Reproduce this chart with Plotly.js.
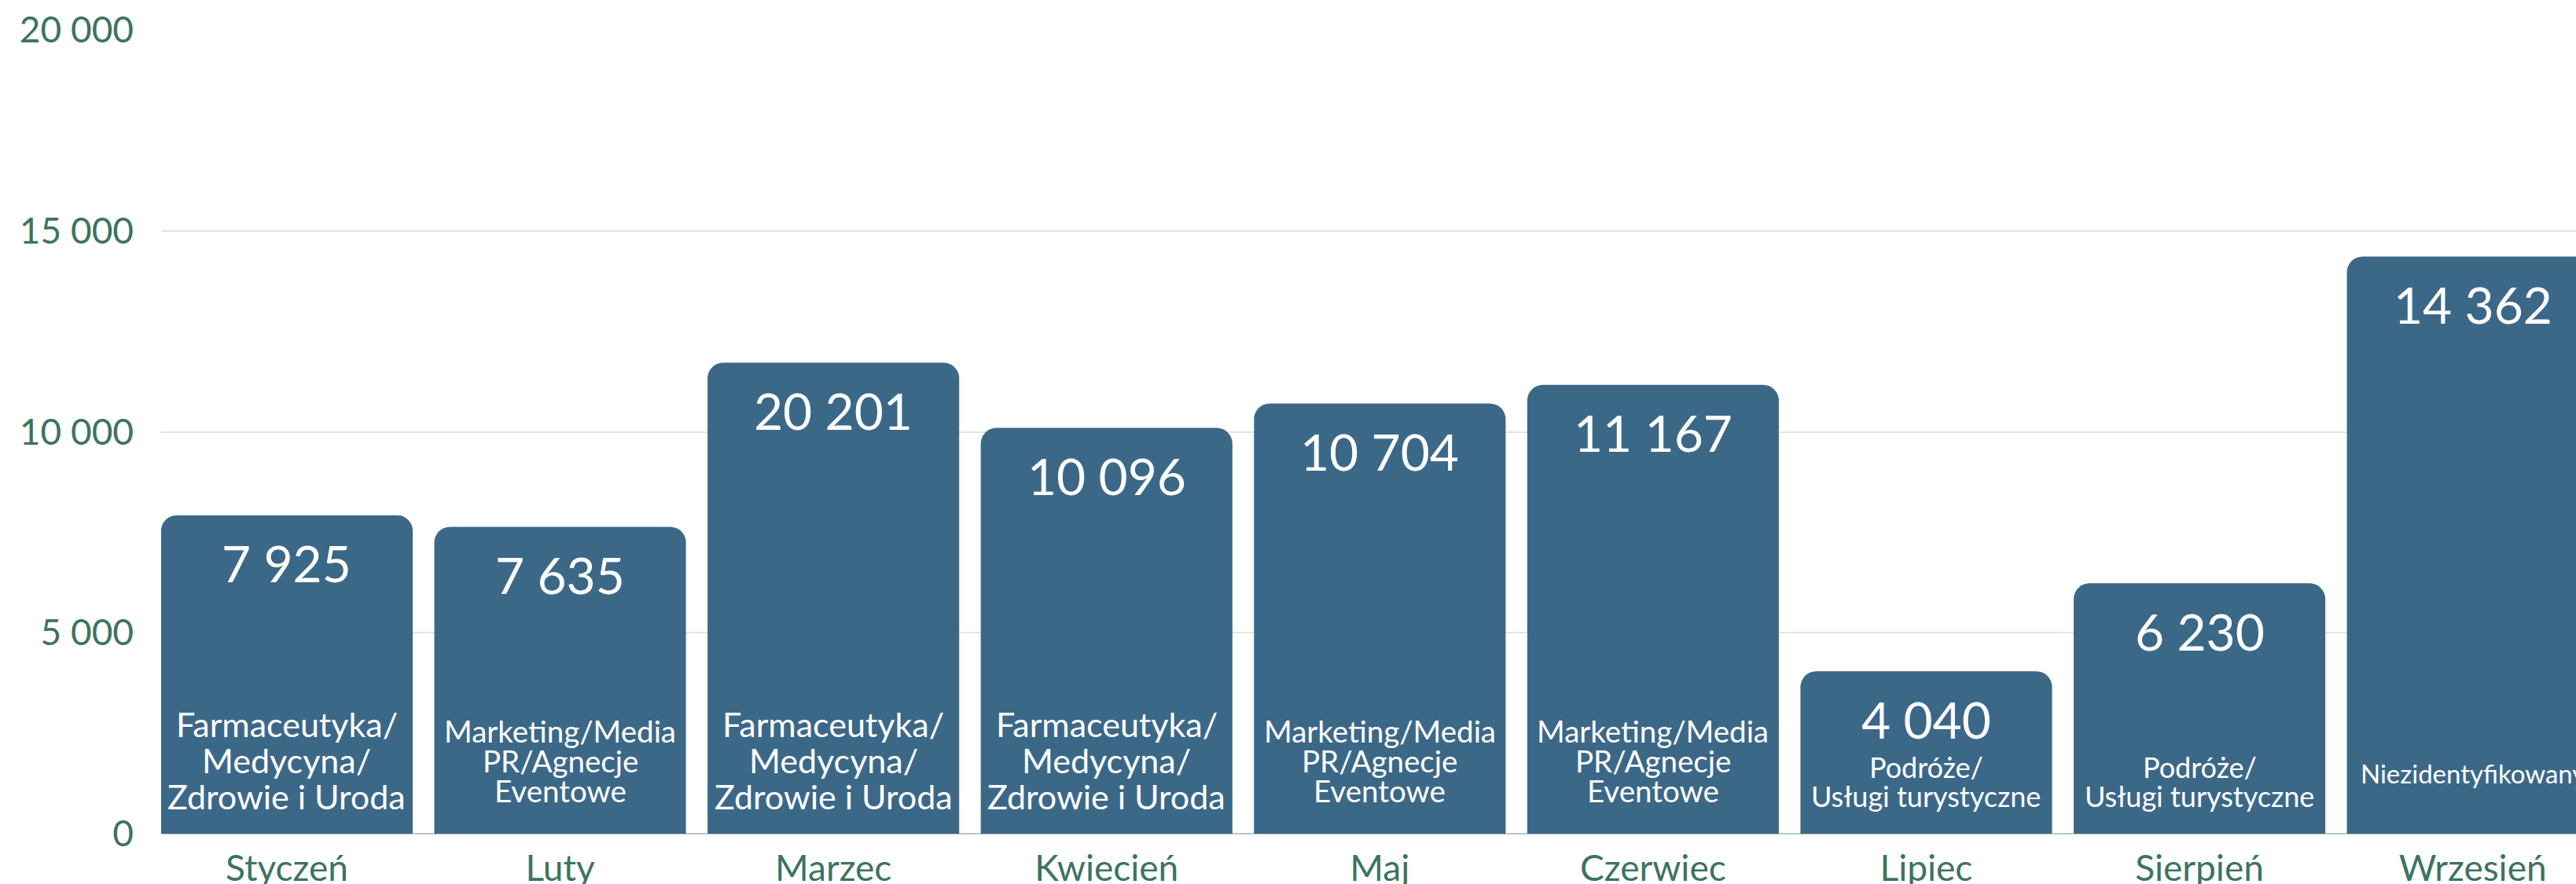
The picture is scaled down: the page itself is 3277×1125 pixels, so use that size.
<!DOCTYPE html>
<html>
<head>
<meta charset="utf-8">
<script src="https://cdn.plot.ly/plotly-3.0.1.min.js"></script>
<style>
  html, body { margin: 0; padding: 0; background: #ffffff; }
  #chart { width: 3277px; height: 1125px; }
</style>
</head>
<body>
<div id="chart"></div>
<script>
// ---- data ----
const months = ["Styczeń", "Luty", "Marzec", "Kwiecień", "Maj", "Czerwiec", "Lipiec", "Sierpień", "Wrzesień"];
// bar heights as drawn in the picture
const barValues = [7925, 7635, 11720, 10096, 10704, 11167, 4040, 6230, 14362];
// value labels printed on the bars
const labelValues = [7925, 7635, 20201, 10096, 10704, 11167, 4040, 6230, 14362];
// sector printed inside each bar
const sectors = [
  "Farmaceutyka/\nMedycyna/\nZdrowie i Uroda",
  "Marketing/Media\nPR/Agnecje\nEventowe",
  "Farmaceutyka/\nMedycyna/\nZdrowie i Uroda",
  "Farmaceutyka/\nMedycyna/\nZdrowie i Uroda",
  "Marketing/Media\nPR/Agnecje\nEventowe",
  "Marketing/Media\nPR/Agnecje\nEventowe",
  "Podróże/\nUsługi turystyczne",
  "Podróże/\nUsługi turystyczne",
  "Niezidentyfikowany"
];
const yTicks = [0, 5000, 10000, 15000, 20000];

// ---- style ----
const FONT = "Lato, 'Open Sans', sans-serif";
const BAR = "#3c6888";
const TICK = "#3d7361";
const sectorStyle = {
  "Farmaceutyka/\nMedycyna/\nZdrowie i Uroda": { size: 43, gap: 46, bottom: 31 },
  "Marketing/Media\nPR/Agnecje\nEventowe":      { size: 38.5, gap: 38, bottom: 40 },
  "Podróże/\nUsługi turystyczne":              { size: 36, gap: 37, bottom: 34 },
  "Niezidentyfikowany":                        { size: 33, gap: 0,  bottom: 64 }
};

function fmt(v) {
  return String(v).replace(/\B(?=(\d{3})+(?!\d))/g, " ");
}

const trace = {
  type: "bar",
  x: months,
  y: barValues,
  marker: { color: BAR, cornerradius: 20, line: { width: 0 } },
  hoverinfo: "skip",
  showlegend: false
};

const annotations = [];
months.forEach((m, i) => {
  annotations.push({
    x: m, y: barValues[i], xref: "x", yref: "y",
    text: fmt(labelValues[i]),
    showarrow: false, xanchor: "center", yanchor: "middle",
    yshift: -61,
    font: { family: FONT, size: 64, color: "#ffffff" }
  });
  const st = sectorStyle[sectors[i]];
  const lines = sectors[i].split("\n");
  lines.forEach((ln, j) => {
    const base = st.bottom + (lines.length - 1 - j) * st.gap;
    annotations.push({
      x: m, y: 0, xref: "x", yref: "y",
      text: ln,
      showarrow: false, xanchor: "center", yanchor: "middle",
      yshift: base + 0.387 * st.size,
      font: { family: FONT, size: st.size, color: "#ffffff" }
    });
  });
});

const layout = {
  width: 3277, height: 1125,
  margin: { l: 205, r: 0, t: 38, b: 64, pad: 0 },
  paper_bgcolor: "#ffffff",
  plot_bgcolor: "#ffffff",
  separators: ", ",
  bargap: 0.079,
  font: { family: FONT, color: TICK },
  xaxis: {
    type: "category",
    range: [-0.4603, 8.378],
    showgrid: false, zeroline: false, showline: false, ticks: "",
    tickfont: { family: FONT, size: 46, color: TICK },
    ticklabelstandoff: 13,
    fixedrange: true
  },
  yaxis: {
    range: [0, 20000],
    tickvals: yTicks,
    ticktext: yTicks.map(fmt),
    showgrid: true, gridcolor: "#dfe6e4", gridwidth: 2,
    zeroline: true, zerolinecolor: "#b9cbc4", zerolinewidth: 2,
    showline: false, ticks: "",
    tickfont: { family: FONT, size: 46, color: TICK },
    ticklabelstandoff: 34,
    fixedrange: true
  },
  annotations: annotations
};

Plotly.newPlot("chart", [trace], layout, { displayModeBar: false, staticPlot: true });
</script>
</body>
</html>
